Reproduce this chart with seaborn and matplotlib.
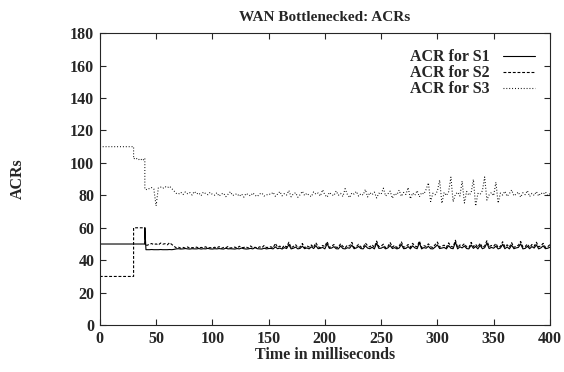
import numpy as np
import pandas as pd
import matplotlib
matplotlib.use("Agg")
import matplotlib.pyplot as plt
from matplotlib.lines import Line2D
import seaborn as sns

# step-shaped start of each series (time in ms, ACR)
s1_head_t = [0, 40, 40, 41]
s1_head_v = [50, 50, 60, 46.5]
s2_head_t = [0, 30, 30, 40, 40]
s2_head_v = [30, 30, 60, 60, 49.5]
s3_head_t = [0, 30, 30, 32, 34, 36, 38, 40, 40]
s3_head_v = [110, 110, 102.5, 103.1, 101.8, 102.6, 101.4, 102.9, 83.8]

# sampled part, every 2 ms from 42 to 400
tail_t = np.arange(42, 401, 2)

s1_tail = [
    46.5, 46.5, 46.6, 46.5, 46.5, 46.5, 46.6, 46.5, 46.5, 46.5, 46.6, 46.5, 46.7,
    47.0, 47.1, 46.9, 47.0, 47.2, 47.0, 46.9, 47.1, 47.0, 47.0,
    47.2, 46.9, 47.1, 47.0, 47.3, 47.0, 46.9, 47.1, 47.0, 47.2,
    47.0, 46.9, 47.4, 47.0, 47.1, 47.0, 46.9, 47.2, 47.0, 47.5,
    47.1, 46.9, 47.0, 47.3, 47.0, 47.8, 47.1, 47.0, 46.9, 47.4,
    47.0, 47.2,
    47.3, 47.0, 48.2, 47.1, 47.5, 46.9, 47.8, 47.2, 49.6, 47.0,
    47.4, 48.1, 47.0, 47.3, 48.7, 47.1, 47.6, 47.0, 48.3, 47.2,
    49.0, 47.1, 47.4, 47.9, 47.0, 50.2, 47.3, 47.5, 48.4, 47.1,
    47.0, 48.8, 47.2, 47.0, 47.7, 47.4, 49.3, 47.1, 47.6, 48.5,
    47.2, 47.0, 48.9, 47.5, 47.1, 48.0, 47.0, 50.5, 47.3, 47.4,
    48.2, 47.0, 47.6, 49.1, 47.2, 47.8, 47.0, 47.5, 49.7, 47.1,
    47.3, 48.4, 47.0, 48.9, 47.6, 47.1, 50.8, 47.0, 47.8, 47.4,
    48.6, 47.1, 47.0, 48.1, 49.5, 47.2, 47.5, 47.9, 47.0, 49.0,
    47.4, 47.1, 51.2, 47.0, 48.3, 47.6, 48.8, 47.2, 47.0, 49.4,
    47.3, 48.5, 47.0, 49.2, 47.1, 47.7, 50.6, 47.2, 47.9, 47.4,
    48.7, 47.0, 47.5, 49.8, 47.1, 48.2, 47.0, 49.3, 47.1, 47.6,
    47.9, 50.1, 47.0, 47.3, 48.6, 47.1, 48.4, 47.5, 49.5, 47.0,
    47.6, 48.9, 47.1, 47.4, 48.0,
]

s2_tail = [
    49.2, 49.8, 50.3, 49.6, 50.1, 49.4, 50.6, 49.9, 50.2, 49.5, 50.8, 49.7, 48.6,
    47.6, 48.0, 47.4, 47.9, 47.5, 48.2, 47.3, 47.8, 47.6, 48.1,
    47.4, 47.9, 47.7, 48.3, 47.5, 47.8, 47.4, 48.0, 47.6, 48.4,
    47.3, 47.9, 47.7, 48.5, 47.5, 47.8, 48.1, 47.4, 48.6, 47.7,
    47.9, 48.2, 47.5, 48.8, 47.6, 48.0, 47.4, 48.3, 47.7, 49.1,
    47.8, 48.0,
    48.3, 47.6, 50.4, 47.9, 48.7, 47.5, 49.2, 48.0, 51.1, 47.7,
    48.5, 49.6, 47.8, 48.2, 50.3, 47.6, 48.9, 48.1, 49.4, 47.9,
    50.8, 48.3, 47.7, 49.1, 48.4, 51.5, 47.8, 48.6, 49.7, 48.0,
    47.9, 50.2, 48.5, 47.6, 49.3, 48.8, 51.0, 47.7, 48.4, 49.8,
    48.1, 47.8, 50.6, 48.9, 48.2, 49.5, 47.9, 51.8, 48.3, 48.7,
    49.9, 47.6, 48.5, 50.9, 48.1, 49.2, 47.8, 48.6, 51.3, 48.0,
    48.4, 49.7, 47.9, 50.4, 48.8, 48.2, 51.9, 47.7, 49.0, 48.5,
    50.1, 48.3, 47.8, 49.6, 51.2, 48.0, 48.7, 49.3, 47.9, 50.7,
    48.6, 48.1, 52.3, 47.8, 49.4, 48.9, 50.2, 48.2, 47.7, 51.0,
    48.4, 49.8, 48.0, 50.5, 47.9, 48.8, 52.0, 48.3, 49.1, 48.6,
    50.3, 47.8, 48.5, 51.4, 48.2, 49.5, 48.0, 50.8, 47.9, 48.7,
    49.2, 51.6, 48.1, 48.4, 50.0, 47.8, 49.7, 48.6, 51.1, 48.2,
    48.9, 50.4, 47.9, 48.3, 49.6,
]

s3_tail = [
    83.5, 84.2, 84.8, 83.9, 73.5, 84.6, 85.1, 84.3, 85.4, 84.7, 85.6, 84.1, 82.6,
    81.2, 80.8, 81.9, 80.5, 82.1, 81.0, 81.7, 80.2, 82.4, 80.9,
    81.5, 79.8, 82.0, 81.1, 80.4, 81.8, 80.6,
    80.1, 81.6, 79.5, 80.9, 81.3, 79.2, 80.7, 82.2, 79.9, 80.5,
    81.0, 79.4, 80.8, 78.9, 81.2, 80.3, 79.7, 81.5, 80.0, 79.3,
    80.9, 81.4, 79.6, 80.2, 80.8,
    80.6, 81.9, 79.4, 80.8, 82.3, 79.7, 81.1, 80.2, 83.0, 79.1,
    80.9, 81.6, 78.8, 80.4, 82.5, 79.9, 81.3, 80.0, 79.2, 82.1,
    80.7, 81.4, 79.6, 83.4, 80.3, 78.9, 81.8, 80.5, 79.8, 82.7,
    80.1, 81.2, 79.3, 84.1, 80.6, 78.6, 81.5, 80.8, 82.4, 79.5,
    81.0, 80.2, 83.6, 79.0, 81.7, 80.4, 82.0, 78.4, 81.3, 80.7,
    84.4, 79.6, 80.9, 82.6, 78.2, 81.1, 80.3, 83.2, 79.4, 81.8,
    80.5, 84.8, 77.9, 81.4, 80.0, 82.9, 79.1, 81.6, 80.8, 83.7,
    87.7, 76.2, 81.3, 80.4, 82.6, 89.4, 75.1, 81.8, 79.9, 82.2,
    91.2, 76.0, 80.7, 81.9, 79.6, 88.8, 75.3, 82.4, 80.1, 81.5,
    89.8, 73.4, 81.2, 80.6, 82.8, 91.3, 77.1, 80.3, 81.7, 79.8,
    88.1, 75.2, 81.4,
    80.2, 82.5, 79.4, 81.1, 83.3, 79.7, 80.8, 82.0, 78.9, 81.6,
    80.4, 82.9, 79.3, 81.2, 80.0, 82.3, 79.6, 81.5, 80.7, 82.1,
    79.9, 81.0,
]

labels = ["ACR for S1", "ACR for S2", "ACR for S3"]
styles = ["-", (0, (2.6, 1.6)), (0, (0.8, 1.8))]

sns.set_style("ticks")
plt.rcParams["font.family"] = ["Liberation Serif", "DejaVu Serif"]
plt.rcParams["font.weight"] = "bold"
fs = 11.5

fig, ax = plt.subplots(figsize=(5.64, 3.72), dpi=100)
fig.subplots_adjust(left=0.177, right=0.975, top=0.911, bottom=0.126)

series = [
    (s1_head_t, s1_head_v, s1_tail),
    (s2_head_t, s2_head_v, s2_tail),
    (s3_head_t, s3_head_v, s3_tail),
]
handles = []
for (ht, hv, tv), lab, ls in zip(series, labels, styles):
    df = pd.DataFrame({
        "t": np.concatenate([ht, tail_t]),
        "acr": np.concatenate([hv, tv]),
    })
    sns.lineplot(data=df, x="t", y="acr", ax=ax, sort=False, estimator=None,
                 color="black", linewidth=0.8, linestyle=ls)
    handles.append(Line2D([], [], color="black", linewidth=0.8, linestyle=ls))

ax.set_xlim(0, 400)
ax.set_ylim(0, 180)
ax.set_xticks(np.arange(0, 401, 50))
ax.set_yticks(np.arange(0, 181, 20))
ax.tick_params(direction="in", top=True, right=True, length=4.5, width=0.8,
               labelsize=fs, pad=4)
for sp in ax.spines.values():
    sp.set_linewidth(0.8)
    sp.set_visible(True)

ax.set_title("WAN Bottlenecked: ACRs", fontsize=11, fontweight="bold", pad=9)
ax.set_xlabel("Time in milliseconds", fontsize=fs, fontweight="bold", labelpad=0)
ax.set_ylabel("ACRs", fontsize=fs, fontweight="bold", labelpad=32)

ax.legend(handles, labels, loc="upper right", frameon=False, markerfirst=False,
          handlelength=2.0, handletextpad=0.85, labelspacing=0.0,
          borderpad=0, borderaxespad=0, bbox_to_anchor=(0.967, 0.945),
          fontsize=fs)

fig.savefig("out.png", dpi=100)
